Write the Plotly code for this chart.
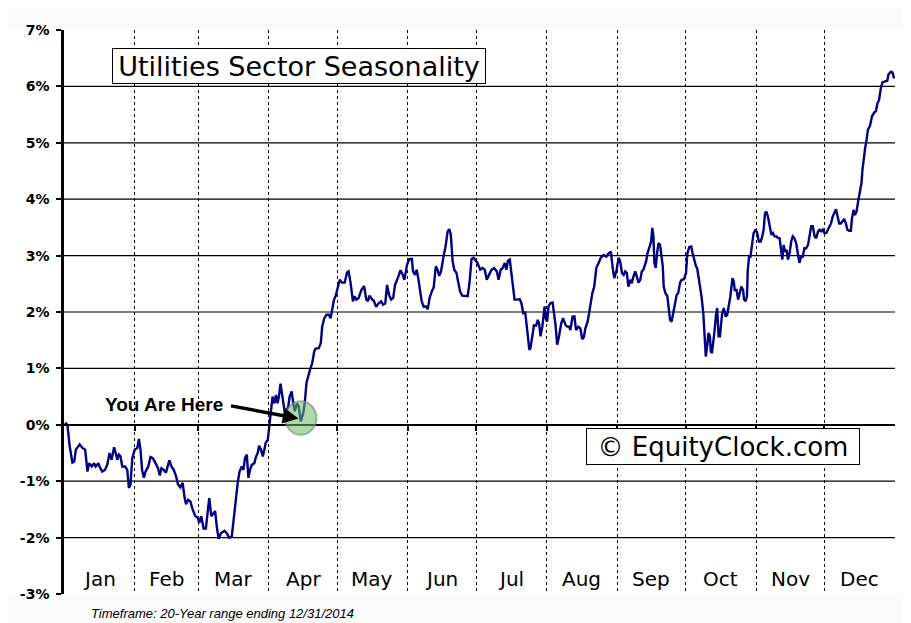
import plotly.graph_objects as go

# ---- data: day of year vs. seasonal return (%) ----
days = [0.5,1.5,2.5,3.7,4.5,5.2,6.9,8.1,9.3,9.8,10.3,11.0,12.2,13.2,13.9,15.1,15.7,16.8,18.0,19.0,20.0,20.9,22.0,22.7,23.4,24.1,24.8,25.6,26.8,27.8,28.5,29.2,30.0,31.1,32.2,32.9,33.6,34.3,35.1,35.8,37.0,38.0,39.0,40.2,41.3,42.1,42.8,43.8,44.8,45.7,46.3,47.2,48.2,49.2,50.1,51.1,52.1,53.0,53.6,54.5,55.5,56.5,57.7,58.8,59.4,60.3,61.3,62.3,63.1,63.8,64.7,65.7,66.4,67.1,67.9,69.0,70.5,71.5,72.5,73.7,74.5,75.5,76.3,77.1,78.1,78.8,79.5,80.3,81.0,81.7,82.5,83.6,84.3,85.1,85.7,86.5,87.3,88.0,88.6,89.5,90.0,90.9,91.6,92.4,93.1,93.8,94.4,95.1,95.9,96.3,97.0,97.8,98.5,99.1,100.0,100.7,101.4,102.3,103.1,104.0,105.1,105.8,106.5,108.0,
        109.0,109.9,110.5,111.9,112.8,113.4,114.3,115.3,116.3,117.1,117.8,118.6,119.3,120.4,121.1,122.1,123.3,124.3,125.0,125.9,126.9,127.6,128.4,129.4,130.6,131.8,132.8,133.5,134.2,135.4,136.1,137.1,138.1,139.3,140.1,141.1,141.9,142.8,143.7,144.6,145.4,146.6,147.8,148.8,149.5,150.7,151.7,152.8,153.3,154.2,154.9,155.6,156.3,157.1,158.0,158.9,159.8,160.6,161.5,162.4,163.3,164.1,164.8,165.6,166.8,167.6,168.5,169.2,169.9,170.7,171.4,172.4,173.1,174.0,174.9,176.1,177.3,178.1,179.0,179.9,180.9,181.6,182.8,183.8,184.8,185.7,186.7,187.8,188.9,190.1,190.9,191.8,192.7,193.6,194.3,195.0,195.8,196.5,197.4,197.9,199.1,200.1,200.9,201.7,202.6,203.2,203.8,204.4,204.9,205.7,206.4,207.4,208.1,208.7,209.3,210.1,211.1,211.6,212.2,212.8,213.7,214.6,215.1,215.9,216.6,217.3,218.4,219.2,220.3,221.0,221.9,222.4,223.4,224.2,224.9,225.9,226.8,227.6,228.3,229.0,230.0,230.6,231.2,232.1,232.9,233.8,234.8,235.9,237.0,238.2,239.2,240.2,241.1,241.7,242.6,243.6,
        244.3,245.1,245.8,246.5,247.2,247.9,248.7,249.4,250.1,250.9,251.6,252.3,253.1,253.8,254.5,255.7,256.3,257.1,257.9,258.4,258.9,259.3,259.9,260.5,261.1,261.8,262.4,263.0,263.4,264.1,265.0,265.6,266.2,266.9,267.6,268.4,269.1,269.8,270.6,271.3,272.3,273.2,273.8,274.6,275.5,276.1,276.7,277.6,278.1,278.7,279.3,280.0,280.8,281.4,281.9,282.5,283.1,283.7,284.1,284.6,285.1,285.7,286.3,286.9,287.5,288.1,288.5,289.1,289.8,290.6,291.3,292.0,292.7,293.6,294.2,294.6,295.4,296.1,296.8,297.5,298.3,298.7,299.4,300.0,300.3,300.9,301.5,302.2,302.9,303.8,304.5,305.2,306.0,306.7,307.3,307.9,308.5,309.2,309.9,310.7,311.4,312.1,312.9,313.6,314.3,314.9,315.5,316.1,316.7,317.4,318.0,318.7,319.4,320.1,320.8,321.6,322.3,323.0,323.8,324.5,325.2,326.0,326.8,327.4,328.2,328.9,329.7,330.4,331.2,331.9,332.6,333.3,334.0,334.8,335.5,336.2,336.9,337.6,338.4,339.1,339.8,340.5,341.2,341.9,342.7,343.4,344.1,344.9,345.6,346.1,346.8,347.4,348.1,348.8,349.6,350.3,350.7,351.4,351.9,352.5,353.1,354.0,354.9,355.9,356.6,357.3,358.0,358.8,359.5,360.7,361.6,362.1,363.2,363.9,364.6]

returns = [0.04,0.00,-0.38,-0.67,-0.65,-0.44,-0.35,-0.41,-0.44,-0.62,-0.83,-0.68,-0.74,-0.68,-0.74,-0.68,-0.75,-0.83,-0.80,-0.71,-0.50,-0.62,-0.40,-0.50,-0.62,-0.53,-0.56,-0.74,-0.74,-0.80,-1.12,-1.06,-0.59,-0.44,-0.41,-0.25,-0.44,-0.80,-0.94,-0.83,-0.74,-0.57,-0.59,-0.68,-0.77,-0.90,-0.77,-0.80,-0.85,-0.71,-0.63,-0.74,-0.80,-0.91,-1.06,-1.11,-1.03,-1.30,-1.41,-1.33,-1.36,-1.50,-1.62,-1.65,-1.74,-1.62,-1.84,-1.84,-1.50,-1.30,-1.62,-1.57,-1.53,-1.80,-2.02,-1.92,-1.88,-1.92,-2.00,-1.98,-1.68,-1.27,-1.03,-0.83,-0.74,-0.80,-0.59,-0.53,-0.94,-0.80,-0.71,-0.68,-0.57,-0.50,-0.37,-0.44,-0.56,-0.44,-0.32,-0.27,-0.09,0.21,0.50,0.38,0.53,0.38,0.50,0.73,0.50,0.32,0.21,0.27,0.32,0.50,0.59,0.38,0.24,0.38,0.32,0.06,0.21,0.41,0.74,0.97,
           1.09,1.30,1.35,1.36,1.45,1.74,1.89,1.95,1.95,1.89,2.04,2.22,2.28,2.48,2.57,2.52,2.52,2.70,2.72,2.51,2.19,2.28,2.22,2.25,2.39,2.46,2.22,2.19,2.29,2.22,2.20,2.09,2.15,2.19,2.13,2.15,2.48,2.30,2.22,2.25,2.48,2.60,2.74,2.66,2.57,2.84,2.94,2.94,2.72,2.66,2.75,2.60,2.36,2.19,2.09,2.10,2.05,2.25,2.36,2.44,2.81,2.75,2.64,2.72,3.01,3.16,3.43,3.47,3.37,2.90,2.75,2.69,2.54,2.36,2.29,2.29,2.28,2.51,2.94,2.96,2.90,2.87,2.75,2.78,2.75,2.57,2.66,2.75,2.78,2.72,2.57,2.75,2.78,2.87,2.75,2.91,2.93,2.72,2.45,2.22,2.22,2.23,2.16,1.98,1.99,1.80,1.51,1.33,1.36,1.63,1.76,1.76,1.86,1.79,1.57,1.74,2.10,1.89,1.83,2.10,2.16,2.17,2.04,1.77,1.42,1.54,1.80,1.89,1.77,1.74,1.74,1.68,1.92,1.92,1.68,1.74,1.71,1.52,1.55,1.71,1.83,1.98,2.16,2.34,2.45,2.78,2.87,2.97,3.01,2.98,3.04,3.07,2.75,2.60,2.72,2.96,
           2.90,2.69,2.66,2.72,2.69,2.45,2.57,2.51,2.63,2.72,2.63,2.52,2.57,2.72,2.75,2.90,3.04,3.13,3.25,3.49,3.34,2.87,2.78,3.04,3.22,3.19,2.98,2.81,2.45,2.34,2.28,2.07,1.86,1.83,1.98,2.19,2.30,2.34,2.52,2.57,2.58,2.69,3.04,3.15,3.16,3.04,2.93,2.81,2.78,2.63,2.45,2.28,1.98,1.57,1.21,1.39,1.63,1.57,1.30,1.27,1.51,1.65,1.92,2.07,1.57,1.57,1.74,1.98,2.07,1.92,1.95,2.13,2.28,2.60,2.54,2.39,2.39,2.22,2.34,2.45,2.39,2.22,2.19,2.28,2.72,2.98,2.98,3.25,3.40,3.46,3.40,3.25,3.25,3.34,3.46,3.75,3.78,3.69,3.52,3.37,3.40,3.34,3.34,3.31,3.31,3.16,2.93,3.19,3.07,3.10,2.93,3.04,3.25,3.34,3.31,3.22,3.04,2.87,2.98,2.98,3.13,3.13,3.19,3.34,3.52,3.52,3.34,3.31,3.43,3.46,3.43,3.46,3.40,3.40,3.46,3.52,3.57,3.69,3.78,3.82,3.69,3.57,3.57,3.60,3.65,3.57,3.46,3.44,3.44,3.66,3.81,3.72,3.78,3.96,4.11,4.29,4.52,4.82,4.91,5.05,5.23,5.30,5.47,5.54,5.56,5.70,5.76,5.97,6.07,6.09,6.10,6.21,6.26,6.25,6.14]

months = ["Jan","Feb","Mar","Apr","May","Jun","Jul","Aug","Sep","Oct","Nov","Dec"]
month_starts = [0,31,59,90,120,151,181,212,243,273,304,334,365]
y_ticks = [-3,-2,-1,0,1,2,3,4,5,6,7]
you_are_here_day = 104.0
you_are_here_val = 0.12

fig = go.Figure()
fig.add_trace(go.Scatter(x=days, y=returns, mode="lines",
                         line=dict(color="#000080", width=2.4),
                         hoverinfo="skip", showlegend=False))

# month labels inside plot area
mids = [(month_starts[i] + month_starts[i+1]) / 2 for i in range(12)]
annotations = []
for m, xm in zip(months, mids):
    annotations.append(dict(x=xm, y=-2.73, xref="x", yref="y", text=m, showarrow=False,
                            font=dict(family="DejaVu Sans", size=20, color="black")))

# title box
annotations.append(dict(x=0.058, y=0.937, xref="paper", yref="paper", xanchor="left", yanchor="middle",
                        text="Utilities Sector Seasonality", showarrow=False,
                        font=dict(family="DejaVu Sans", size=27, color="black"),
                        bgcolor="white", bordercolor="black", borderwidth=1, borderpad=0,
                        width=372, height=34))
# copyright box
annotations.append(dict(x=0.7936, y=0.2615, xref="paper", yref="paper", xanchor="center", yanchor="middle",
                        text="© EquityClock.com", showarrow=False,
                        font=dict(family="DejaVu Sans", size=26, color="black"),
                        bgcolor="white", bordercolor="black", borderwidth=1, borderpad=0,
                        width=272, height=35))
# You Are Here
annotations.append(dict(x=44.0, y=0.36, xref="x", yref="y", text="<b>You Are Here</b>", showarrow=False,
                        font=dict(family="Liberation Sans", size=19, color="black")))
annotations.append(dict(x=103.0, y=0.11, xref="x", yref="y", text="", showarrow=True,
                        ax=-69, ay=-13, arrowhead=2, arrowsize=0.9, arrowwidth=3.5, arrowcolor="black"))
# footer
annotations.append(dict(x=(87 - 61.5) / 833.5, y=(594 - 613) / 564, xref="paper", yref="paper",
                        xanchor="left", yanchor="middle",
                        text="<i>Timeframe: 20-Year range ending 12/31/2014</i>", showarrow=False,
                        font=dict(family="Liberation Sans", size=13, color="black")))

shapes = [
    dict(type="rect", xref="paper", yref="paper", x0=-0.1, x1=1.03, y0=0, y1=1.004,
         fillcolor="white", line=dict(width=0), layer="below"),
]
# horizontal grid lines (interior levels only)
for v in y_ticks[1:-1]:
    if v == 0:
        continue
    shapes.append(dict(type="line", xref="paper", yref="y", x0=0, x1=1, y0=v, y1=v,
                       line=dict(color="black", width=1.2), layer="below"))
shapes.append(dict(type="circle", xref="x", yref="y",
                   x0=you_are_here_day - 6.9, x1=you_are_here_day + 6.9,
                   y0=you_are_here_val - 0.296, y1=you_are_here_val + 0.296,
                   fillcolor="rgba(110,185,100,0.55)", line=dict(color="rgba(110,140,110,0.6)", width=2),
                   layer="above"))

# page body has an 8px margin: shrink figure so the plot lands where the reference has it
fig.update_layout(
    width=903, height=615,
    margin=dict(l=53, r=16, t=22, b=29),
    paper_bgcolor="#fafafa", plot_bgcolor="white",
    annotations=annotations, shapes=shapes,
    xaxis=dict(range=[0, 365], anchor="free", position=0.3,
               showline=True, linecolor="black", linewidth=2,
               ticks="outside", ticklen=5, tickwidth=2, tickcolor="black",
               tickvals=month_starts[1:-1], showticklabels=False,
               showgrid=True, gridcolor="black", gridwidth=1, griddash="3px,3px",
               zeroline=False, fixedrange=True),
    yaxis=dict(range=[-3, 7], tickvals=y_ticks, ticktext=[f"{v}%" for v in y_ticks],
               showline=True, linecolor="black", linewidth=2.5,
               ticks="outside", ticklen=5, tickwidth=2, tickcolor="black",
               ticklabelstandoff=4,
               tickfont=dict(family="DejaVu Sans", size=14, color="black", weight="bold"),
               showgrid=False, zeroline=False, fixedrange=True),
)

fig.write_html("out.html")
